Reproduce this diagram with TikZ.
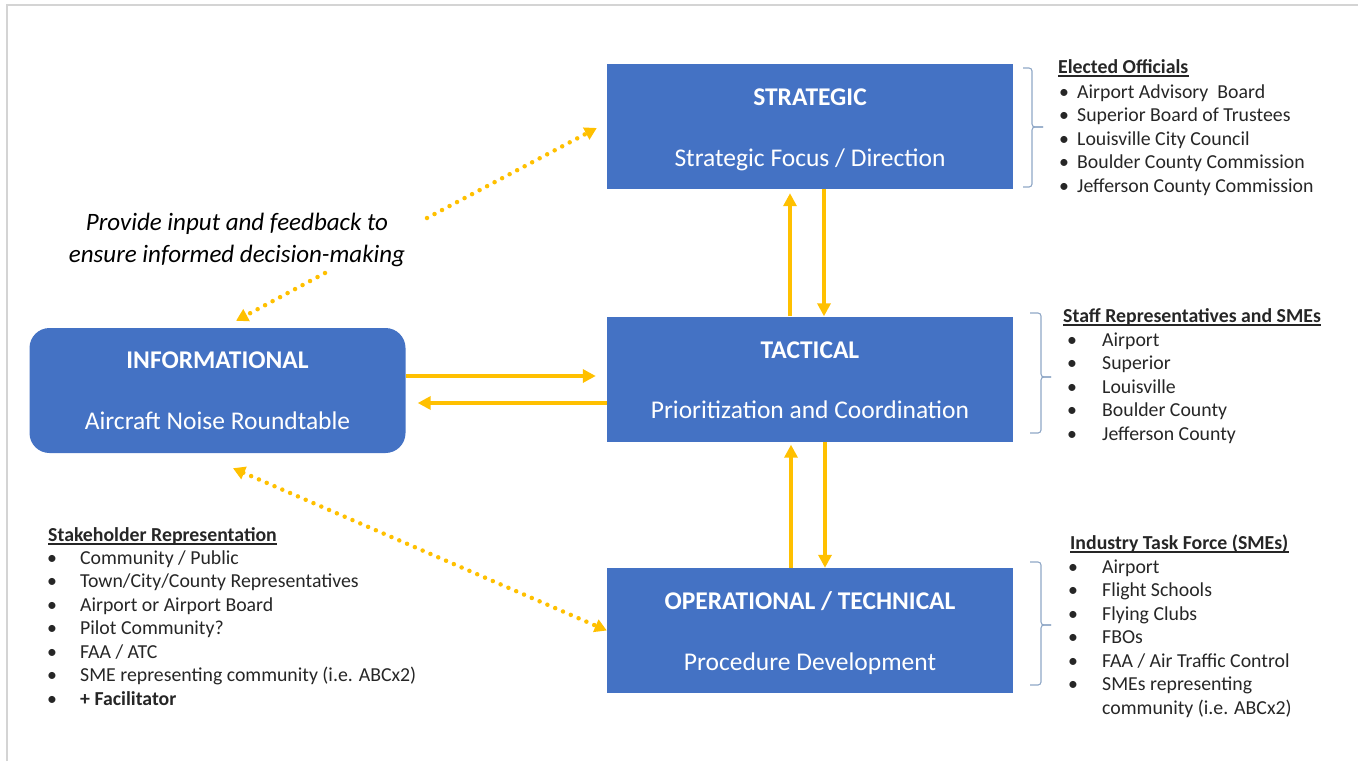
\documentclass[tikz,border=0pt]{standalone}
\usepackage{fontspec}
\setmainfont{Carlito}
\usetikzlibrary{arrows.meta,calc}
\definecolor{boxblue}{HTML}{4472C4}
\definecolor{gold}{HTML}{FFC000}
\definecolor{bracegray}{HTML}{8FA7C6}
\definecolor{ink}{HTML}{262626}
\definecolor{framegray}{HTML}{D4D4D4}
\newcommand\bulletbox[1]{\makebox[#1][l]{•}}

\begin{document}
\begin{tikzpicture}[x=1pt,y=-1pt,
  level/.style={fill=boxblue, draw=none, minimum width=406pt, minimum height=125pt, inner sep=0pt},
  title/.style={text=white, font=\fontsize{25.5}{30}\selectfont\bfseries, anchor=base, inner sep=0pt},
  subtitle/.style={text=white, font=\fontsize{25.5}{30}\selectfont, anchor=base, inner sep=0pt},
  flow/.style={draw=gold, line width=4.5pt, -{Triangle[length=13pt,width=13pt]}},
  link/.style={draw=gold, line width=4.5pt, line cap=round, dash pattern=on 0pt off 8.5pt,
               -{Triangle[length=12pt,width=13pt]}},
  twoway/.style={link, {Triangle[length=12pt,width=13pt]}-{Triangle[length=12pt,width=13pt]}},
  brace/.style={draw=bracegray, line width=1.1pt, rounded corners=3pt},
  listtext/.style={text=ink, font=\fontsize{19.8}{23.5}\selectfont, anchor=base west, inner sep=0pt},
  head/.style={listtext, font=\fontsize{19.8}{23.5}\selectfont\bfseries},
  uline/.style={draw=ink, line width=1.1pt},
  remark/.style={text=black, font=\fontsize{25}{30}\selectfont\itshape, anchor=base, inner sep=0pt}
]
\useasboundingbox (0,0) rectangle (1358,761);

% page frame
\draw[framegray, line width=1.5pt] (7,761) -- (7,5) -- (1358,5);

% the four levels
\node[level] (s) at (810,126.5) {};
\node[level] (t) at (810,379) {};
\node[level] (o) at (810,630.5) {};
\node[level, rounded corners=20pt, minimum width=376pt] (i) at (217.5,390.5) {};

\node[title]    (st) at ([yshift=21.5pt]s.center)  {STRATEGIC};
\node[subtitle] (ss) at ([yshift=-39.5pt]s.center) {Strategic Focus / Direction};
\node[title]    (tt) at ([yshift=21pt]t.center)    {TACTICAL};
\node[subtitle] (ts) at ([yshift=-39pt]t.center)   {Prioritization and Coordination};
\node[title]    (ot) at ([yshift=21.5pt]o.center)  {OPERATIONAL / TECHNICAL};
\node[subtitle] (os) at ([yshift=-39.5pt]o.center) {Procedure Development};
\node[title]    (it) at ([yshift=22.5pt]i.center)  {INFORMATIONAL};
\node[subtitle] (is) at ([yshift=-38.5pt]i.center) {Aircraft Noise Roundtable};

% solid flows between levels
\draw[flow] ([xshift=-20pt]t.north) -- ([xshift=-20pt,yshift=-4pt]s.south);
\draw[flow] ([xshift=14pt]s.south) -- ([xshift=14pt]t.north);
\draw[flow] ([xshift=-19pt]o.north) -- ([xshift=-19pt,yshift=-3pt]t.south);
\draw[flow] ([xshift=15pt]t.south) -- ([xshift=15pt]o.north);
\draw[flow] ([yshift=14.5pt]i.east) -- ([xshift=-11pt,yshift=3pt]t.west);
\draw[flow] ([yshift=-24pt]t.west) -- ([xshift=12pt,yshift=-12.5pt]i.east);

% input and feedback
\node[remark] (q1) at (237,230) {Provide input and feedback to};
\node[remark] (q2) at (237,262) {ensure informed decision-making};
\coordinate (p1) at (427,218);
\coordinate (p2) at (325,273);
\draw[link] (p1) -- ([xshift=-10pt,yshift=-1.5pt]s.west);
\draw[link] (p2) -- ([xshift=18.5pt,yshift=7pt]i.north);
\draw[twoway] ([xshift=15.5pt,yshift=-15pt]i.south) -- (o.west);

% braces
\draw[brace] (1023,68) -| (1032,127) -- (1043,127);
\draw[brace] (1023,187) -| (1032,127) -- (1043,127);
\draw[brace] (1030,313) -| (1041,377) -- (1051,377);
\draw[brace] (1030,433) -| (1041,377) -- (1051,377);
\draw[brace] (1030,562) -| (1041,625) -- (1051,625);
\draw[brace] (1030,685) -| (1041,625) -- (1051,625);

% elected officials
\node[head] (h1) at (1058,73) {Elected Officials};
\draw[uline] ([yshift=-3pt]h1.base west) -- ([yshift=-3pt]h1.base east);
\foreach \txt [count=\k] in {Airport Advisory\ \ Board, Superior Board of Trustees,
  Louisville City Council, Boulder County Commission, Jefferson County Commission}
  \node[listtext] (e\k) at (1059,{98+(\k-1)*23.5}) {\bulletbox{18pt}\txt};

% staff representatives
\node[head] (h2) at (1063,322) {Staff Representatives and SMEs};
\draw[uline] ([yshift=-3pt]h2.base west) -- ([yshift=-3pt]h2.base east);
\foreach \txt [count=\k] in {Airport, Superior, Louisville, Boulder County, Jefferson County}
  \node[listtext] (r\k) at (1067,{346+(\k-1)*23.5}) {\bulletbox{35pt}\txt};

% industry task force
\node[head] (h3) at (1070,549) {Industry Task Force (SMEs)};
\draw[uline] ([yshift=-3pt]h3.base west) -- ([yshift=-3pt]h3.base east);
\foreach \txt [count=\k] in {Airport, Flight Schools, Flying Clubs, FBOs,
  FAA / Air Traffic Control, SMEs representing}
  \node[listtext] (f\k) at (1068,{573+(\k-1)*23.5}) {\bulletbox{34pt}\txt};
\node[listtext] (f7) at (1102,714) {community (i.e. ABCx2)};

% stakeholder representation
\node[head] (h4) at (48,541) {Stakeholder Representation};
\draw[uline] ([yshift=-3pt]h4.base west) -- ([yshift=-3pt]h4.base east);
\foreach \txt [count=\k] in {Community / Public, Town/City/County Representatives,
  Airport or Airport Board, Pilot Community?, FAA / ATC,
  SME representing community (i.e. ABCx2), \textbf{+ Facilitator}}
  \node[listtext] (k\k) at (47,{564+(\k-1)*23.5}) {\bulletbox{33pt}\txt};
\end{tikzpicture}
\end{document}
